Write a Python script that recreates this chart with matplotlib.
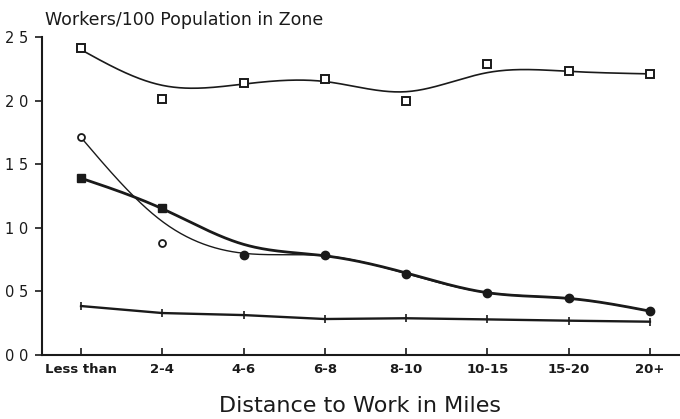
import numpy as np
import matplotlib
matplotlib.use("Agg")
import matplotlib.pyplot as plt

categories = ["Less than", "2-4", "4-6", "6-8", "8-10", "10-15", "15-20", "20+"]
ytick_values = [0.0, 0.5, 1.0, 1.5, 2.0, 2.5]
ytick_labels = ["0 0", "0 5", "1 0", "1 5", "2 0", "2 5"]

# observed points
squares = [2.41, 2.01, 2.14, 2.17, 2.00, 2.29, 2.23, 2.21]
open_circles = [1.71, 0.88, 0.79, 0.79, 0.64, 0.485, 0.446, 0.348]
filled = [1.39, 1.153, 0.79, 0.79, 0.64, 0.485, 0.446, 0.348]
plus = [0.385, 0.33, 0.314, 0.283, 0.289, 0.28, 0.27, 0.262]

# fitted (smoothed) curves as drawn in the figure
squares_fit = [2.40, 2.12, 2.13, 2.15, 2.07, 2.22, 2.23, 2.21]
open_fit = [1.71, 1.05, 0.80, 0.78, 0.64, 0.49, 0.445, 0.345]
filled_fit = [1.39, 1.15, 0.87, 0.78, 0.645, 0.49, 0.445, 0.345]


def natural_spline(x, y, n=400):
    x = np.asarray(x, float)
    y = np.asarray(y, float)
    k = len(x)
    h = np.diff(x)
    A = np.zeros((k, k))
    b = np.zeros(k)
    A[0, 0] = A[-1, -1] = 1
    for i in range(1, k - 1):
        A[i, i - 1] = h[i - 1]
        A[i, i] = 2 * (h[i - 1] + h[i])
        A[i, i + 1] = h[i]
        b[i] = 3 * ((y[i + 1] - y[i]) / h[i] - (y[i] - y[i - 1]) / h[i - 1])
    c = np.linalg.solve(A, b)
    xs = np.linspace(x[0], x[-1], n)
    idx = np.clip(np.searchsorted(x, xs) - 1, 0, k - 2)
    dx = xs - x[idx]
    bb = (y[idx + 1] - y[idx]) / h[idx] - h[idx] * (2 * c[idx] + c[idx + 1]) / 3
    d = (c[idx + 1] - c[idx]) / (3 * h[idx])
    ys = y[idx] + bb * dx + c[idx] * dx ** 2 + d * dx ** 3
    return xs, ys


fig = plt.figure(figsize=(6.8, 4.19), dpi=100)
ax = fig.add_axes([0.0618, 0.1527, 0.9382, 0.759])
x = np.arange(len(categories))
ink = "#1a1a1a"

xs, ys = natural_spline(x, squares_fit)
ax.plot(xs, ys, color=ink, lw=1.2)
ax.plot(x, squares, ls="none", marker="s", ms=5.5, mfc="white", mec=ink, mew=1.4)

xs, ys = natural_spline(x, open_fit)
ax.plot(xs, ys, color=ink, lw=1.0)
xs, ys = natural_spline(x, filled_fit)
ax.plot(xs, ys, color=ink, lw=2.0)

ax.plot(x[:2], open_circles[:2], ls="none", marker="o", ms=5, mfc="white", mec=ink, mew=1.3)
ax.plot(x[2:], open_circles[2:], ls="none", marker="o", ms=6, mfc=ink, mec=ink)
ax.plot(x[:2], filled[:2], ls="none", marker="s", ms=5.5, mfc=ink, mec=ink)

ax.plot(x, plus, color=ink, lw=1.7, marker="|", ms=6, mew=1.2)

ax.set_xlim(-0.48, 7.37)
ax.set_ylim(0, 2.5)
ax.set_xticks(x)
ax.set_xticklabels(categories, fontsize=9.5, fontweight="bold", color=ink)
ax.set_yticks(ytick_values)
ax.set_yticklabels(ytick_labels, fontsize=10.5, color=ink)
ax.tick_params(axis="x", direction="in", length=5, width=1.2, pad=6, colors=ink)
ax.tick_params(axis="y", direction="out", length=5, width=1.2, pad=5, colors=ink)
for s in ["top", "right"]:
    ax.spines[s].set_visible(False)
for s in ["left", "bottom"]:
    ax.spines[s].set_linewidth(1.5)
    ax.spines[s].set_color(ink)

fig.text(0.066, 0.952, "Workers/100 Population in Zone", fontsize=12.5, color=ink, va="center", ha="left")
fig.text(0.53, 0.03, "Distance to Work in Miles", fontsize=16, color=ink, va="center", ha="center")

fig.savefig("out.png", dpi=100, facecolor="white")
